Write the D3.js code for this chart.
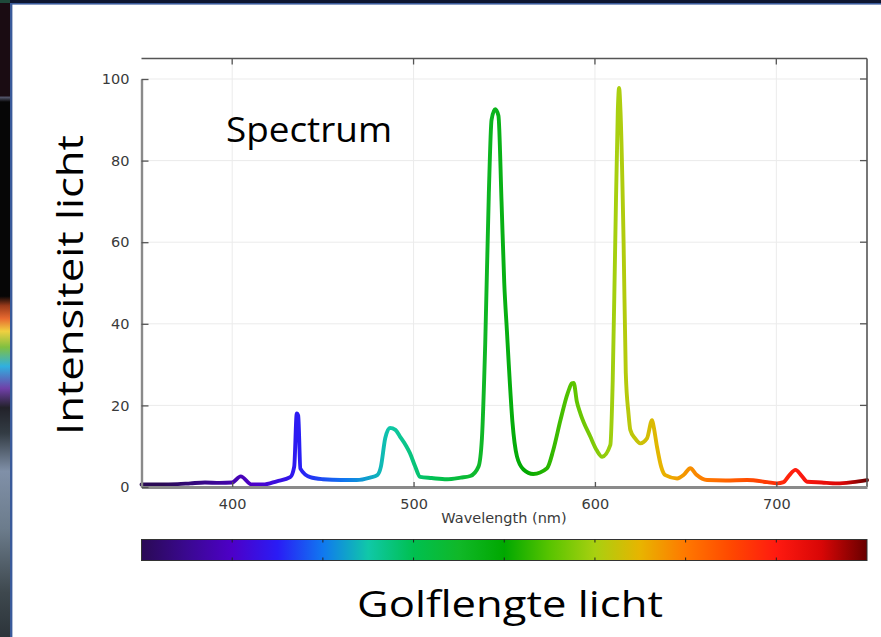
<!DOCTYPE html>
<html>
<head>
<meta charset="utf-8">
<script src="https://cdn.jsdelivr.net/npm/d3@7"></script>
<style>
  html, body { margin: 0; padding: 0; background: #fff; }
  svg { display: block; }
</style>
</head>
<body>
<svg id="slide" width="881" height="637"></svg>
<script>
// Emission spectrum: wavelength (nm) and relative intensity
const wavelengths = [350, 360, 370, 377, 385, 393, 400, 404.7, 410.8, 417, 424.6, 432, 434.2, 435.6, 436.4, 437.6, 443, 450, 460, 468.7, 476, 480, 482, 484.4, 487, 490, 492.6, 496, 498, 500.9, 503.6, 510, 518.4, 526, 531.3, 535.8, 537.7, 539.5, 541.5, 543, 545, 546.8, 548.5, 550, 551.5, 552.5, 554.5, 557, 560.6, 566, 573.6, 577, 581, 585, 587.3, 588.3, 590, 592, 597.5, 601, 604, 608.5, 609.8, 611.2, 612.6, 613.3, 614.1, 615.8, 617, 618.5, 619.5, 622, 625, 628.7, 631.5, 632.3, 634.2, 636.5, 638.8, 645.3, 649, 652.6, 656, 661.8, 672, 683.9, 695, 700.4, 704, 707, 710.6, 713.5, 717, 725, 733.6, 742, 750];
const intensity = [0.6, 0.6, 0.7, 0.9, 1.1, 1.0, 1.1, 2.6, 0.6, 0.6, 1.4, 2.4, 5, 18, 17.5, 4.5, 2.4, 1.9, 1.7, 1.7, 2.3, 2.9, 5, 12, 14.5, 14, 12.3, 10, 8.3, 5, 2.5, 2.2, 1.9, 2.3, 2.7, 5, 12, 35, 72, 90, 92.6, 91, 70, 50, 38, 30, 16, 7.5, 4.3, 3.2, 4.6, 9, 16.4, 23, 25.4, 25.5, 21, 18, 12.3, 9, 7.4, 10.3, 26, 60, 92, 97.8, 92, 60, 28, 18, 14, 12, 10.7, 11.9, 16.4, 15, 9.9, 5, 2.9, 2.1, 3, 4.6, 3, 1.7, 1.6, 1.7, 1.2, 0.9, 1.2, 2.8, 4.2, 3, 1.3, 1.1, 0.9, 1.2, 1.7];

// Axis ticks
const xTicks = [400, 500, 600, 700];
const yTicks = [0, 20, 40, 60, 80, 100];
const barTicks = [400, 450, 500, 550, 600, 650, 700];

// Spectral colour map: wavelength -> colour
const cmapNm = [350, 375, 400, 425, 450, 475, 500, 525, 550, 575, 600, 625, 650, 675, 700, 725, 750];
const cmapColor = ["#2a0a55", "#3a0890", "#4d00c8", "#2a1cf5", "#1078f0", "#10c8a8", "#00c050", "#10b828", "#00a800", "#58c400", "#a8d010", "#e8b400", "#ff7800", "#ff4800", "#ff1a10", "#d80606", "#680000"];
// the curve's colouring runs slightly behind the bar's
const curveShiftNm = 12;

// Texts
const titleText = "Spectrum";
const yLabel = "Intensiteit licht";
const xLabelInner = "Wavelength (nm)";
const xLabelOuter = "Golflengte licht";

const svg = d3.select("#slide");
const defs = svg.append("defs");

// ---- slide frame ----
const edge = defs.append("linearGradient").attr("id", "edgeStrip")
  .attr("x1", 0).attr("y1", 0).attr("x2", 0).attr("y2", 1);
[[0, "#1a0c12"], [0.15, "#1a0c12"], [0.153, "#505266"], [0.16, "#060606"], [0.465, "#060606"],
 [0.48, "#9a3a1a"], [0.5, "#e86a30"], [0.52, "#f0d040"], [0.545, "#80c040"], [0.575, "#30b0e0"],
 [0.61, "#7040a8"], [0.64, "#22222a"], [0.68, "#333c44"], [0.74, "#8090a8"], [0.83, "#6c7c8c"],
 [0.93, "#3e484e"], [1, "#2c343a"]]
  .forEach(([o, c]) => edge.append("stop").attr("offset", o).attr("stop-color", c));

svg.append("rect").attr("width", 881).attr("height", 637).attr("fill", "#ffffff");
svg.append("rect").attr("x", 0).attr("y", 0).attr("width", 10).attr("height", 637).attr("fill", "url(#edgeStrip)");
svg.append("rect").attr("x", 0).attr("y", 0).attr("width", 881).attr("height", 3).attr("fill", "#0e1630");
svg.append("rect").attr("x", 0).attr("y", 0).attr("width", 10).attr("height", 3).attr("fill", "#1e4a3a");
svg.append("rect").attr("x", 10).attr("y", 3).attr("width", 871).attr("height", 1.6).attr("fill", "#3a5a9a");
svg.append("rect").attr("x", 10).attr("y", 3).attr("width", 2.4).attr("height", 634).attr("fill", "#3a5a9a");

// ---- plot ----
const plot = { left: 141.5, right: 867, top: 58.5, bottom: 487 };
const x = d3.scaleLinear().domain([350, 750]).range([plot.left, plot.right]);
const y = d3.scaleLinear().domain([0, 100]).range([plot.bottom, 79]);

// spectral gradients in user space: one for the colour bar, one for the curve
function spectralGradient(id, shift) {
  const grad = defs.append("linearGradient").attr("id", id)
    .attr("gradientUnits", "userSpaceOnUse")
    .attr("x1", x(350)).attr("y1", 0).attr("x2", x(750)).attr("y2", 0);
  cmapNm.forEach((nm, i) => grad.append("stop")
    .attr("offset", Math.min(1, (nm + shift - 350) / 400)).attr("stop-color", cmapColor[i]));
}
spectralGradient("spectralBar", 0);
spectralGradient("spectralCurve", curveShiftNm);

const g = svg.append("g");

// grid
g.selectAll("line.gx").data(xTicks).join("line")
  .attr("x1", d => x(d)).attr("x2", d => x(d))
  .attr("y1", plot.top).attr("y2", plot.bottom)
  .attr("stroke", "#ebebeb").attr("stroke-width", 1);
g.selectAll("line.gy").data(yTicks.slice(1)).join("line")
  .attr("x1", plot.left).attr("x2", plot.right)
  .attr("y1", d => y(d)).attr("y2", d => y(d))
  .attr("stroke", "#ebebeb").attr("stroke-width", 1);

// spectrum curve
const pts = wavelengths.map((w, i) => [w, intensity[i]]);
const line = d3.line().x(d => x(d[0])).y(d => y(d[1])).curve(d3.curveMonotoneX);
g.append("path").datum(pts)
  .attr("d", line)
  .attr("fill", "none")
  .attr("stroke", "url(#spectralCurve)")
  .attr("stroke-width", 3.9)
  .attr("stroke-linejoin", "round")
  .attr("stroke-linecap", "round");

// frame: top and right
g.append("line").attr("x1", plot.left).attr("x2", plot.right).attr("y1", plot.top).attr("y2", plot.top)
  .attr("stroke", "#555").attr("stroke-width", 1.3);
g.append("line").attr("x1", plot.right).attr("x2", plot.right).attr("y1", plot.top).attr("y2", plot.bottom)
  .attr("stroke", "#555").attr("stroke-width", 1.6);

// axes (ticks point inwards)
const xAxis = d3.axisBottom(x).tickValues(xTicks).tickSizeInner(-5).tickSizeOuter(0).tickPadding(12);
const yAxis = d3.axisLeft(y).tickValues(yTicks).tickSizeInner(-7).tickSizeOuter(0).tickPadding(12);

const gx = g.append("g").attr("transform", `translate(0,${plot.bottom})`).call(xAxis);
const gy = g.append("g").attr("transform", `translate(${plot.left},0)`).call(yAxis);
[gx, gy].forEach(a => {
  a.select(".domain").attr("stroke", "#8a8a8a").attr("stroke-width", 2.4);
  a.selectAll(".tick line").attr("stroke", "#555").attr("stroke-width", 1.3);
  a.selectAll(".tick text").attr("fill", "#3a3a3a")
    .style("font-family", "'DejaVu Sans', sans-serif").style("font-size", "14.5px");
});
gx.select(".domain").attr("stroke-width", 3);
gx.selectAll(".tick text").attr("dy", "0.71em");

// mirrored ticks on top and right
g.selectAll("line.tt").data(xTicks).join("line")
  .attr("x1", d => x(d)).attr("x2", d => x(d))
  .attr("y1", plot.top).attr("y2", plot.top + 6)
  .attr("stroke", "#555").attr("stroke-width", 1.3);
g.selectAll("line.tr").data(yTicks.slice(1)).join("line")
  .attr("x1", plot.right - 7).attr("x2", plot.right)
  .attr("y1", d => y(d)).attr("y2", d => y(d))
  .attr("stroke", "#555").attr("stroke-width", 1.3);

g.append("text").attr("x", 504).attr("y", 522.5).attr("text-anchor", "middle")
  .attr("fill", "#3a3a3a")
  .style("font-family", "'DejaVu Sans', sans-serif").style("font-size", "14.5px")
  .text(xLabelInner);

// title inside plot
svg.append("text").attr("x", 226).attr("y", 142).attr("fill", "#000")
  .style("font-family", "'Open Sans', sans-serif").style("font-size", "34px")
  .attr("textLength", 166).attr("lengthAdjust", "spacingAndGlyphs")
  .text(titleText);

// vertical slide label
svg.append("text").attr("transform", "translate(83,435) rotate(-90)")
  .attr("fill", "#000")
  .style("font-family", "'Open Sans', sans-serif").style("font-size", "37px")
  .attr("textLength", 300).attr("lengthAdjust", "spacingAndGlyphs")
  .text(yLabel);

// ---- colour bar ----
const bar = { top: 539.5, bottom: 560.5 };
svg.append("rect").attr("x", x(350)).attr("y", bar.top)
  .attr("width", x(750) - x(350)).attr("height", bar.bottom - bar.top)
  .attr("fill", "url(#spectralBar)").attr("stroke", "#333").attr("stroke-width", 1);
svg.selectAll("line.bt").data(barTicks).join("line")
  .attr("x1", d => x(d)).attr("x2", d => x(d))
  .attr("y1", bar.top).attr("y2", bar.top + 3)
  .attr("stroke", "#222").attr("stroke-width", 1);
svg.selectAll("line.bb").data(barTicks).join("line")
  .attr("x1", d => x(d)).attr("x2", d => x(d))
  .attr("y1", bar.bottom - 3).attr("y2", bar.bottom)
  .attr("stroke", "#222").attr("stroke-width", 1);

svg.append("text").attr("x", 357).attr("y", 617).attr("fill", "#000")
  .style("font-family", "'Open Sans', sans-serif").style("font-size", "37px")
  .attr("textLength", 306).attr("lengthAdjust", "spacingAndGlyphs")
  .text(xLabelOuter);
</script>
</body>
</html>
